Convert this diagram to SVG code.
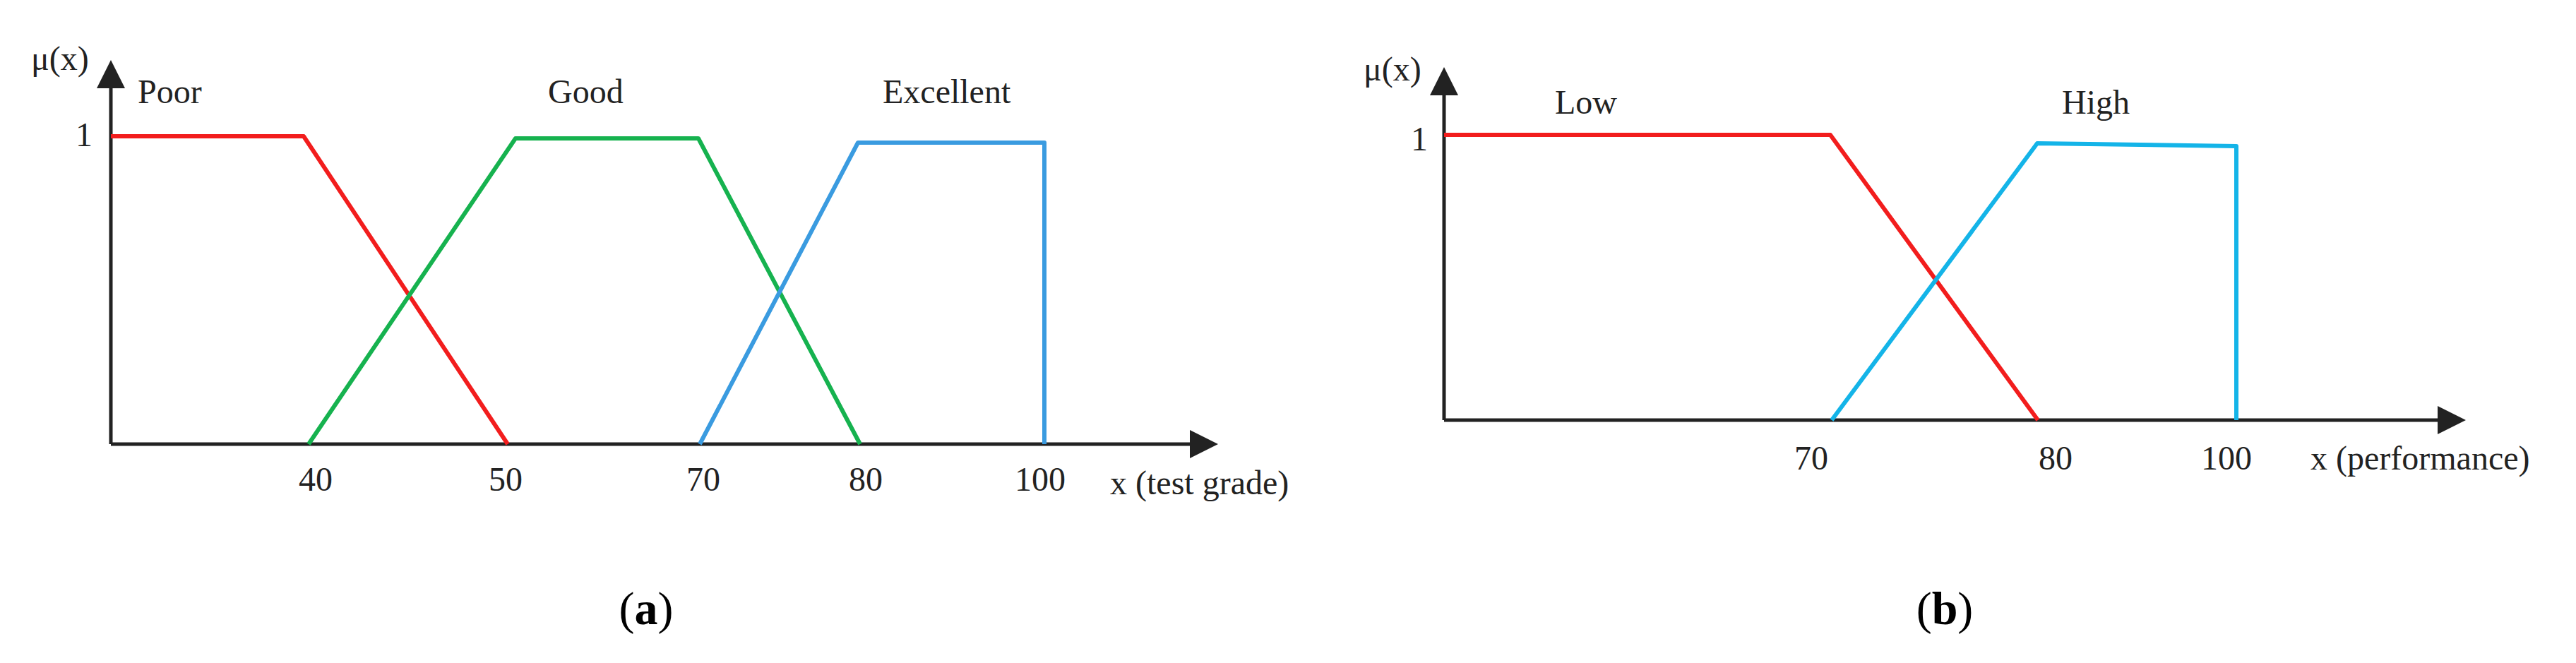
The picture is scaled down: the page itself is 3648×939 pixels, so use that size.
<svg xmlns="http://www.w3.org/2000/svg" width="3648" height="939" viewBox="0 0 3648 939">
<style>
text{font-family:"Liberation Serif","Times New Roman",serif;font-size:48px;fill:#222}
.ax{stroke:#222;stroke-width:5;fill:none}
.c{fill:none;stroke-width:6;stroke-linejoin:round}
.cap{font-size:66px;fill:#000}
.b{font-weight:bold}
</style>
<defs><marker id="ar" markerWidth="8" markerHeight="8" refX="6" refY="4" orient="auto" markerUnits="strokeWidth"><path d="M0,0L8,4L0,8z" fill="#222"/></marker></defs>
<g id="axes-a">
<line class="ax" x1="157" y1="629" x2="157" y2="95" marker-end="url(#ar)"/>
<line class="ax" x1="157" y1="629" x2="1715" y2="629" marker-end="url(#ar)"/>
</g>
<g id="curves-a">
<polyline class="c" stroke="#f21d1d" points="157,193 430,193 719,629"/>
<polyline class="c" stroke="#16b24f" points="437,629 730,196 989,196 1218,629"/>
<polyline class="c" stroke="#3a9be0" points="991,629 1215,202 1479,202 1479,629"/>
</g>
<g id="labels-a">
<text x="44" y="99">μ(x)</text>
<text x="107" y="207">1</text>
<text x="195" y="146">Poor</text>
<text x="776" y="146">Good</text>
<text x="1250" y="146">Excellent</text>
<text x="447" y="695" text-anchor="middle">40</text>
<text x="716" y="695" text-anchor="middle">50</text>
<text x="996" y="695" text-anchor="middle">70</text>
<text x="1226" y="695" text-anchor="middle">80</text>
<text x="1473" y="695" text-anchor="middle">100</text>
<text x="1572" y="700">x (test grade)</text>
<text class="cap" x="915" y="884" text-anchor="middle">(<tspan class="b">a</tspan>)</text>
</g>
<g id="axes-b">
<line class="ax" x1="2045" y1="595" x2="2045" y2="105" marker-end="url(#ar)"/>
<line class="ax" x1="2045" y1="595" x2="3482" y2="595" marker-end="url(#ar)"/>
</g>
<g id="curves-b">
<polyline class="c" stroke="#f21d1d" points="2045,191 2592,191 2886,595"/>
<polyline class="c" stroke="#14b4e8" points="2594,595 2885,203 3167,207 3167,595"/>
</g>
<g id="labels-b">
<text x="1931" y="114">μ(x)</text>
<text x="1998" y="213">1</text>
<text x="2202" y="161">Low</text>
<text x="2920" y="161">High</text>
<text x="2565" y="665" text-anchor="middle">70</text>
<text x="2911" y="665" text-anchor="middle">80</text>
<text x="3153" y="665" text-anchor="middle">100</text>
<text x="3272" y="665">x (performance)</text>
<text class="cap" x="2754" y="884" text-anchor="middle">(<tspan class="b">b</tspan>)</text>
</g>
</svg>
